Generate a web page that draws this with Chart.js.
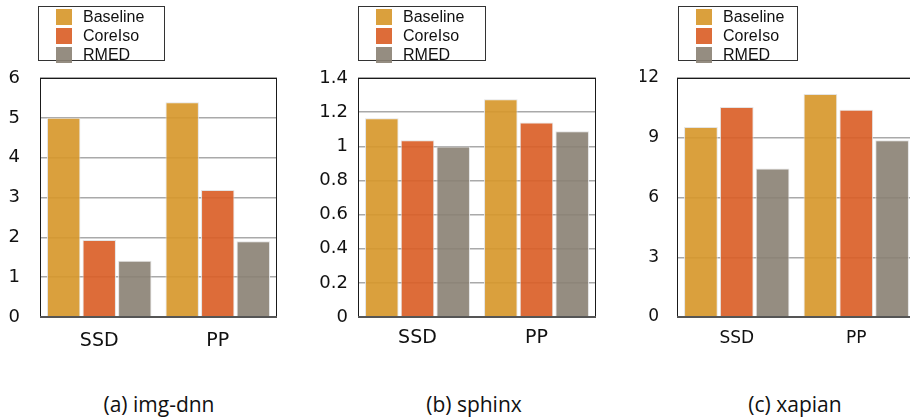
<!DOCTYPE html>
<html>
<head>
<meta charset="utf-8">
<script src="https://cdn.jsdelivr.net/npm/chart.js@4.4.1/dist/chart.umd.min.js"></script>
<style>
  html, body { margin: 0; padding: 0; background: #fff; }
  body { position: relative; width: 910px; height: 420px; overflow: hidden; }
  .panel { position: absolute; top: 0; }
  .legend {
    position: absolute; top: 6px; height: 55px; box-sizing: border-box;
    border: 1.5px solid #333; background: #fff;
    font: 16px "Liberation Sans", Arial, sans-serif; color: #111;
  }
  .legend .row { position: absolute; left: 0; height: 19px; line-height: 19px; white-space: nowrap; }
  .legend .sw { position: absolute; top: 2px; width: 16px; height: 16px; }
  .legend .tx { position: absolute; top: 0; }
  .caption {
    position: absolute; top: 390px; width: 200px; text-align: center;
    font: 21px "Open Sans", "Noto Sans", sans-serif; color: #111;
  }
</style>
</head>
<body>
<canvas id="c1" class="panel"></canvas>
<canvas id="c2" class="panel"></canvas>
<canvas id="c3" class="panel"></canvas>
<div class="caption" style="left:59px">(a) img-dnn</div>
<div class="caption" style="left:374px">(b) sphinx</div>
<div class="caption" style="left:695px">(c) xapian</div>

<script>
// categories and series
const categories = ['SSD', 'PP'];
const seriesNames = ['Baseline', 'CoreIso', 'RMED'];
const seriesColors = ['rgba(215,152,45,0.92)', 'rgba(218,96,40,0.92)', 'rgba(138,129,115,0.9)'];

// values
const imgDnnBaseline = [5.0, 5.39];
const imgDnnCoreIso = [1.93, 3.19];
const imgDnnRMED = [1.41, 1.90];

const sphinxBaseline = [1.164, 1.276];
const sphinxCoreIso = [1.036, 1.14];
const sphinxRMED = [0.999, 1.088];

const xapianBaseline = [9.54, 11.2];
const xapianCoreIso = [10.54, 10.4];
const xapianRMED = [7.46, 8.87];

// y axis ranges
const imgDnnTicks = { max: 6, step: 1 };
const sphinxTicks = { max: 1.4, step: 0.2 };
const xapianTicks = { max: 12, step: 3 };

// frame around the plot area
const framePlugin = {
  id: 'frame',
  afterDatasetsDraw(chart) {
    const { ctx, chartArea: a } = chart;
    ctx.save();
    ctx.strokeStyle = '#1a1a1a';
    ctx.lineWidth = 1;
    ctx.strokeRect(a.left + 0.5, a.top + 0.5, a.right - a.left - 1, a.bottom - a.top - 1);
    ctx.strokeStyle = '#555';
    ctx.lineWidth = 2;
    ctx.beginPath();
    ctx.moveTo(a.left, a.bottom);
    ctx.lineTo(a.right, a.bottom);
    ctx.stroke();
    ctx.restore();
  }
};

// boxed legend built from the chart's own legend items
const htmlLegendPlugin = {
  id: 'htmlLegend',
  afterUpdate(chart, args, opts) {
    let box = document.getElementById(opts.id);
    if (!box) {
      box = document.createElement('div');
      box.id = opts.id;
      box.className = 'legend';
      document.body.appendChild(box);
    }
    box.style.left = opts.left + 'px';
    box.style.width = opts.width + 'px';
    box.innerHTML = '';
    const items = chart.options.plugins.legend.labels.generateLabels(chart);
    items.forEach((item, i) => {
      const row = document.createElement('div');
      row.className = 'row';
      row.style.top = (i * 19) + 'px';
      const sw = document.createElement('span');
      sw.className = 'sw';
      sw.style.left = '17px';
      sw.style.background = item.fillStyle;
      const tx = document.createElement('span');
      tx.className = 'tx';
      tx.style.left = '44px';
      tx.textContent = item.text;
      row.appendChild(sw);
      row.appendChild(tx);
      box.appendChild(row);
    });
  }
};

function makeChart(cfg) {
  const canvas = document.getElementById(cfg.id);
  canvas.width = cfg.width;
  canvas.height = 360;
  canvas.style.left = cfg.left + 'px';
  canvas.style.width = cfg.width + 'px';
  canvas.style.height = '360px';

  return new Chart(canvas.getContext('2d'), {
    type: 'bar',
    data: {
      labels: categories,
      datasets: cfg.values.map((vals, i) => ({
        label: seriesNames[i],
        data: vals,
        backgroundColor: seriesColors[i],
        borderColor: 'rgba(225,225,225,0.9)',
        borderWidth: 1,
        categoryPercentage: 0.9,
        barPercentage: 0.94
      }))
    },
    options: {
      responsive: false,
      animation: false,
      layout: { padding: { top: 78, right: cfg.padRight, bottom: 0, left: 0 } },
      scales: {
        x: {
          grid: { display: false, drawTicks: false },
          border: { display: false },
          ticks: {
            padding: cfg.xPad,
            color: '#111',
            font: { family: 'DejaVu Sans', size: cfg.xFont }
          },
          afterFit(scale) { scale.height = 43; }
        },
        y: {
          min: 0,
          max: cfg.ticks.max,
          grid: { color: '#a9a9a9', lineWidth: 1.5, drawTicks: false },
          border: { display: false },
          ticks: {
            stepSize: cfg.ticks.step,
            padding: cfg.tickPad,
            color: '#111',
            font: { family: 'DejaVu Sans', size: cfg.yFont },
            callback: v => String(+Number(v).toFixed(1))
          },
          afterFit(scale) { scale.width = cfg.axisWidth; }
        }
      },
      plugins: {
        legend: { display: false },
        tooltip: { enabled: false },
        htmlLegend: { id: cfg.id + '-legend', left: cfg.legendLeft, width: cfg.legendWidth }
      }
    },
    plugins: [framePlugin, htmlLegendPlugin]
  });
}

makeChart({
  id: 'c1', left: 0, width: 290, padRight: 13, axisWidth: 40, tickPad: 20,
  xFont: 19, yFont: 18, xPad: 13, ticks: imgDnnTicks,
  values: [imgDnnBaseline, imgDnnCoreIso, imgDnnRMED],
  legendLeft: 38, legendWidth: 127
});

makeChart({
  id: 'c2', left: 300, width: 300, padRight: 4, axisWidth: 58, tickPad: 10,
  xFont: 19, yFont: 18, xPad: 10, ticks: sphinxTicks,
  values: [sphinxBaseline, sphinxCoreIso, sphinxRMED],
  legendLeft: 358, legendWidth: 128
});

makeChart({
  id: 'c3', left: 640, width: 277, padRight: 1, axisWidth: 37, tickPad: 18,
  xFont: 17, yFont: 17, xPad: 11, ticks: xapianTicks,
  values: [xapianBaseline, xapianCoreIso, xapianRMED],
  legendLeft: 678, legendWidth: 120
});
</script>
</body>
</html>
